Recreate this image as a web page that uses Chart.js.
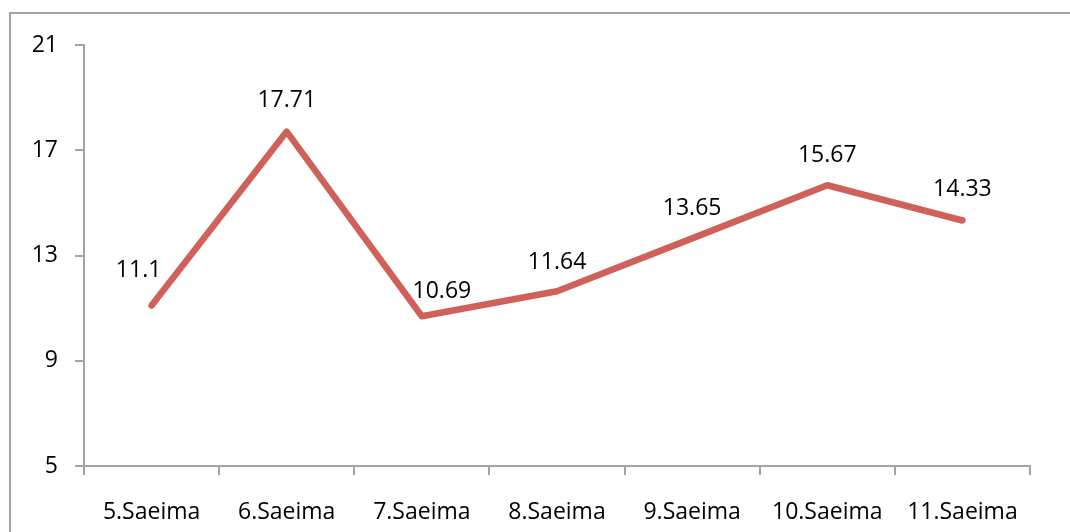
<!DOCTYPE html>
<html>
<head>
<meta charset="utf-8">
<script src="https://cdn.jsdelivr.net/npm/chart.js@4/dist/chart.umd.min.js"></script>
<style>
  html, body { margin: 0; padding: 0; background: #fff; overflow: hidden; }
  #frame { position: absolute; left: 9px; top: 12px; width: 1200px; height: 700px; border: 2px solid #A3A3A3; box-sizing: border-box; }
  #wrap { position: absolute; left: 0; top: 0; width: 1070px; height: 532px; }
</style>
</head>
<body>
<div id="frame"></div>
<div id="wrap"><canvas id="c" width="1070" height="532"></canvas></div>
<script>
const categories = ['5.Saeima', '6.Saeima', '7.Saeima', '8.Saeima', '9.Saeima', '10.Saeima', '11.Saeima'];
const values = [11.1, 17.71, 10.69, 11.64, 13.65, 15.67, 14.33];
const valueLabels = ['11.1', '17.71', '10.69', '11.64', '13.65', '15.67', '14.33'];
const yTicks = [5, 9, 13, 17, 21];

const FONT = "'Open Sans', sans-serif";
const AXIS = '#A3A3A3';

const labelPlugin = {
  id: 'pointLabels',
  afterDatasetsDraw(chart) {
    const meta = chart.getDatasetMeta(0);
    const ctx = chart.ctx;
    const shifts = [-13, 0, 20, 0, 0, 0, 0];
    const lifts = [35, 31, 25, 29, 30, 30, 31];
    ctx.save();
    ctx.font = '23px ' + FONT;
    ctx.fillStyle = '#000';
    ctx.textAlign = 'center';
    ctx.textBaseline = 'middle';
    meta.data.forEach((pt, i) => {
      ctx.fillText(valueLabels[i], pt.x + shifts[i], pt.y - lifts[i]);
    });
    ctx.restore();
  }
};

new Chart(document.getElementById('c'), {
  type: 'line',
  data: {
    labels: categories,
    datasets: [{
      data: values,
      borderColor: '#D0605A',
      borderWidth: 6.5,
      borderCapStyle: 'round',
      borderJoinStyle: 'round',
      pointRadius: 0,
      tension: 0,
      fill: false
    }]
  },
  options: {
    responsive: false,
    animation: false,
    layout: { padding: { left: 0, right: 40, top: 45, bottom: 0 } },
    plugins: { legend: { display: false }, tooltip: { enabled: false } },
    scales: {
      x: {
        offset: true,
        grid: { offset: true, drawOnChartArea: false, drawTicks: true, tickLength: 9, color: AXIS, lineWidth: 2 },
        border: { display: true, color: AXIS, width: 2 },
        ticks: { color: '#000', font: { family: FONT, size: 23 }, padding: 24, maxRotation: 0, autoSkip: false },
        afterFit(scale) { scale.height = 66; }
      },
      y: {
        min: 5, max: 21,
        afterBuildTicks(scale) { scale.ticks = yTicks.map(v => ({ value: v })); },
        grid: { drawOnChartArea: false, drawTicks: true, tickLength: 9, color: AXIS, lineWidth: 2 },
        border: { display: true, color: AXIS, width: 2 },
        ticks: { color: '#000', font: { family: FONT, size: 23 }, padding: 17 },
        afterFit(scale) { scale.width = 84; }
      }
    }
  },
  plugins: [labelPlugin]
});
</script>
</body>
</html>
